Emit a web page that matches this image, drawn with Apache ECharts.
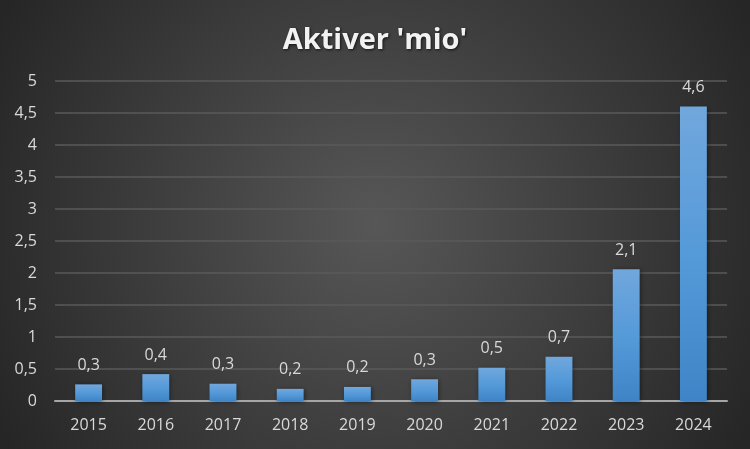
<!DOCTYPE html>
<html><head><meta charset="utf-8">
<script src="https://cdn.jsdelivr.net/npm/echarts@6/dist/echarts.min.js"></script>
<style>html,body{margin:0;padding:0;background:#333}#c{width:750px;height:449px}</style>
</head><body><div id="c"></div>
<script>
var categories = ['2015','2016','2017','2018','2019','2020','2021','2022','2023','2024'];
var values = [0.26, 0.42, 0.27, 0.19, 0.22, 0.34, 0.52, 0.69, 2.06, 4.6];
var yTicks = [0, 0.5, 1, 1.5, 2, 2.5, 3, 3.5, 4, 4.5, 5];
var titleText = "Aktiver 'mio'";

var fmt = function (v) { return String(v).replace('.', ','); };
var chart = echarts.init(document.getElementById('c'), null, {renderer: 'canvas'});
chart.setOption({
  animation: false,
  backgroundColor: {
    type: 'radial', x: 0.5, y: 0.5, r: 0.95,
    colorStops: [{offset: 0, color: '#575757'}, {offset: 1, color: '#262626'}]
  },
  title: {
    text: titleText, left: 'center', top: 21,
    textStyle: {
      color: '#f2f2f2', fontFamily: 'Open Sans', fontWeight: 'bold', fontSize: 29,
      textShadowColor: 'rgba(0,0,0,0.7)', textShadowBlur: 3, textShadowOffsetX: 1, textShadowOffsetY: 1
    }
  },
  grid: {left: 55, right: 23, top: 81, bottom: 48, containLabel: false},
  xAxis: {
    type: 'category', data: categories,
    axisLine: {lineStyle: {color: '#a6a6a6', width: 2}},
    axisTick: {show: false},
    axisLabel: {color: '#d9d9d9', fontFamily: 'Open Sans', fontSize: 16, margin: 16}
  },
  yAxis: {
    type: 'value', min: yTicks[0], max: yTicks[yTicks.length - 1], interval: 0.5,
    axisLine: {show: false}, axisTick: {show: false},
    splitLine: {lineStyle: {color: '#5a5a5a', width: 1.5}},
    axisLabel: {color: '#d9d9d9', fontFamily: 'Open Sans', fontSize: 16, margin: 18,
      formatter: function (v) { return fmt(v); }}
  },
  series: [{
    type: 'bar', data: values, barWidth: '40%',
    itemStyle: {
      color: {type: 'linear', x: 0, y: 0, x2: 0, y2: 1,
        colorStops: [{offset: 0, color: '#71a7dd'}, {offset: 0.5, color: '#559ad9'}, {offset: 1, color: '#3f84c6'}]},
      shadowColor: 'rgba(0,0,0,0.5)', shadowBlur: 5, shadowOffsetX: 1, shadowOffsetY: 1
    },
    label: {
      show: true, position: 'top', distance: 11,
      color: '#d9d9d9', fontFamily: 'Open Sans', fontSize: 16,
      formatter: function (p) { return p.value.toFixed(1).replace('.', ','); }
    }
  }]
});
</script></body></html>
